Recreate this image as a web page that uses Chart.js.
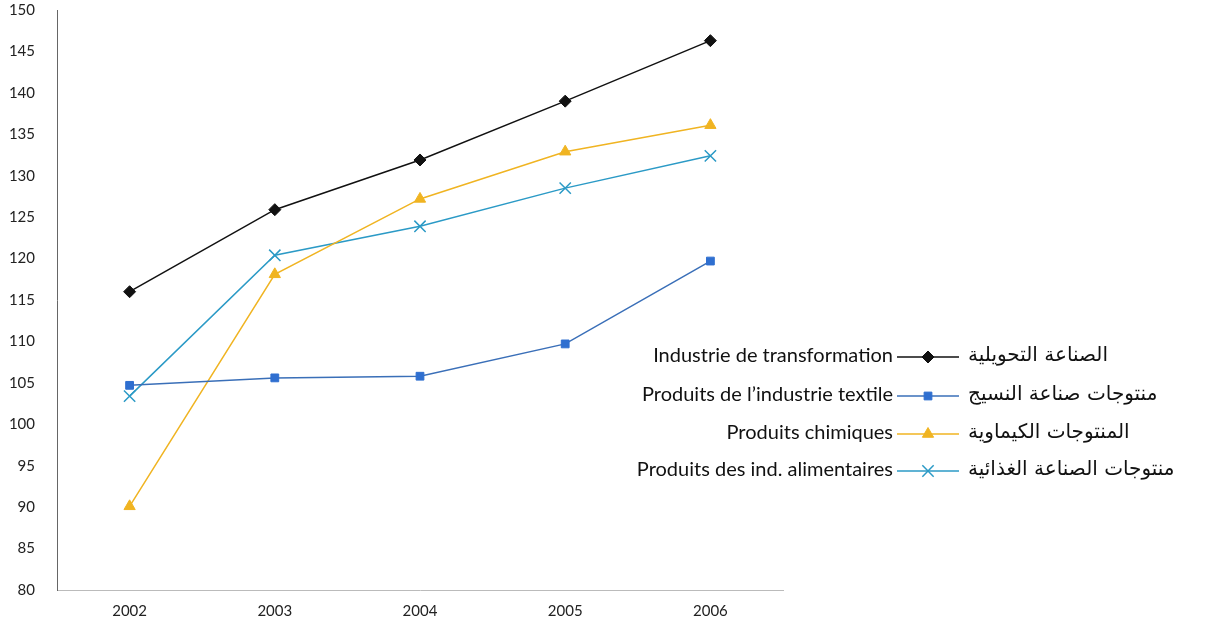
<!DOCTYPE html>
<html>
<head>
<meta charset="utf-8">
<script src="https://cdn.jsdelivr.net/npm/chart.js@4"></script>
<style>
  html, body { margin: 0; padding: 0; background: #fff; }
  #wrap { width: 1207px; height: 628px; position: relative; }
</style>
</head>
<body>
<div id="wrap"><canvas id="chart"></canvas></div>
<script>
// Years on the x axis
const years = ['2002', '2003', '2004', '2005', '2006'];

// Index values per series
const transformation = [116.0, 125.9, 131.9, 139.0, 146.3];
const textile = [104.7, 105.6, 105.8, 109.7, 119.7];
const chimiques = [90.1, 118.1, 127.2, 132.9, 136.1];
const alimentaires = [103.4, 120.4, 123.9, 128.5, 132.4];

// Legend labels (French / Arabic)
const labelsFr = [
    'Industrie de transformation',
    "Produits de l\u2019industrie textile",
    'Produits chimiques',
    'Produits des ind. alimentaires'
];
const labelsAr = [
    'الصناعة التحويلية',
    'منتوجات صناعة النسيج',
    'المنتوجات الكيماوية',
    'منتوجات الصناعة الغذائية'
];

const FONT = "Lato, 'DejaVu Sans', sans-serif";
Chart.defaults.font.family = FONT;
Chart.defaults.color = '#222';

/**
 * Two-sided legend drawn on the canvas, right of the plot
 */
const sideLegend = {
    id: 'sideLegend',
    afterDraw(chart) {
        const ctx = chart.ctx;
        const rows = [356, 395, 433, 470];
        ctx.save();
        ctx.textBaseline = 'middle';
        chart.data.datasets.forEach((ds, i) => {
            const y = rows[i];
            ctx.fillStyle = '#111';
            ctx.textAlign = 'right';
            ctx.font = '20px ' + FONT;
            ctx.fillText(labelsFr[i], 893, y);
            ctx.textAlign = 'left';
            ctx.font = "20px 'DejaVu Sans', sans-serif";
            ctx.fillText(labelsAr[i], 968, y);
            ctx.strokeStyle = ds.borderColor;
            ctx.lineWidth = ds.borderWidth;
            ctx.beginPath();
            ctx.moveTo(897, y + 1);
            ctx.lineTo(959, y + 1);
            ctx.stroke();
            ctx.fillStyle = ds.pointBackgroundColor;
            ctx.strokeStyle = ds.pointBorderColor;
            ctx.lineWidth = ds.pointBorderWidth || 1;
            Chart.helpers.drawPoint(ctx, {
                pointStyle: ds.pointStyle,
                radius: ds.pointRadius,
                borderWidth: ds.pointBorderWidth || 1,
                rotation: 0
            }, 928, y + 1);
        });
        ctx.restore();
    }
};

function series(data, color, style, radius, extra) {
    return Object.assign({
        data,
        borderColor: color,
        backgroundColor: color,
        pointBackgroundColor: color,
        pointBorderColor: color,
        borderWidth: 1.5,
        pointStyle: style,
        pointRadius: radius,
        pointBorderWidth: 1,
        tension: 0,
        fill: false
    }, extra || {});
}

new Chart(document.getElementById('chart'), {
    type: 'line',
    data: {
        labels: years,
        datasets: [
            series(transformation, '#111111', 'rectRot', 6),
            series(textile, '#3a6fb8', 'rect', 5.5, { pointBackgroundColor: '#2f6fd0', pointBorderColor: '#2f6fd0' }),
            series(chimiques, '#f0b422', 'triangle', 6.5),
            series(alimentaires, '#2b9ac6', 'crossRot', 8, { pointBorderWidth: 1.5 })
        ]
    },
    options: {
        responsive: true,
        maintainAspectRatio: false,
        animation: false,
        layout: { padding: { top: 10, right: 424, left: 0, bottom: 0 } },
        plugins: {
            legend: { display: false },
            tooltip: { enabled: false }
        },
        scales: {
            x: {
                offset: true,
                grid: { display: false, drawTicks: false },
                border: { color: '#bbbbbb', width: 1 },
                ticks: { font: { size: 15 }, padding: 12, color: '#222' },
                afterFit: (s) => { s.height = 38; }
            },
            y: {
                min: 80,
                max: 150,
                ticks: { stepSize: 5, font: { size: 15 }, padding: 18, color: '#222' },
                grid: { display: false, drawOnChartArea: false, drawTicks: true, tickLength: 4, tickColor: '#666' },
                border: { color: '#666', width: 1 },
                afterFit: (s) => { s.width = 57; s.paddingTop = 0; s.paddingBottom = 0; }
            }
        }
    },
    plugins: [sideLegend]
});
</script>
</body>
</html>
